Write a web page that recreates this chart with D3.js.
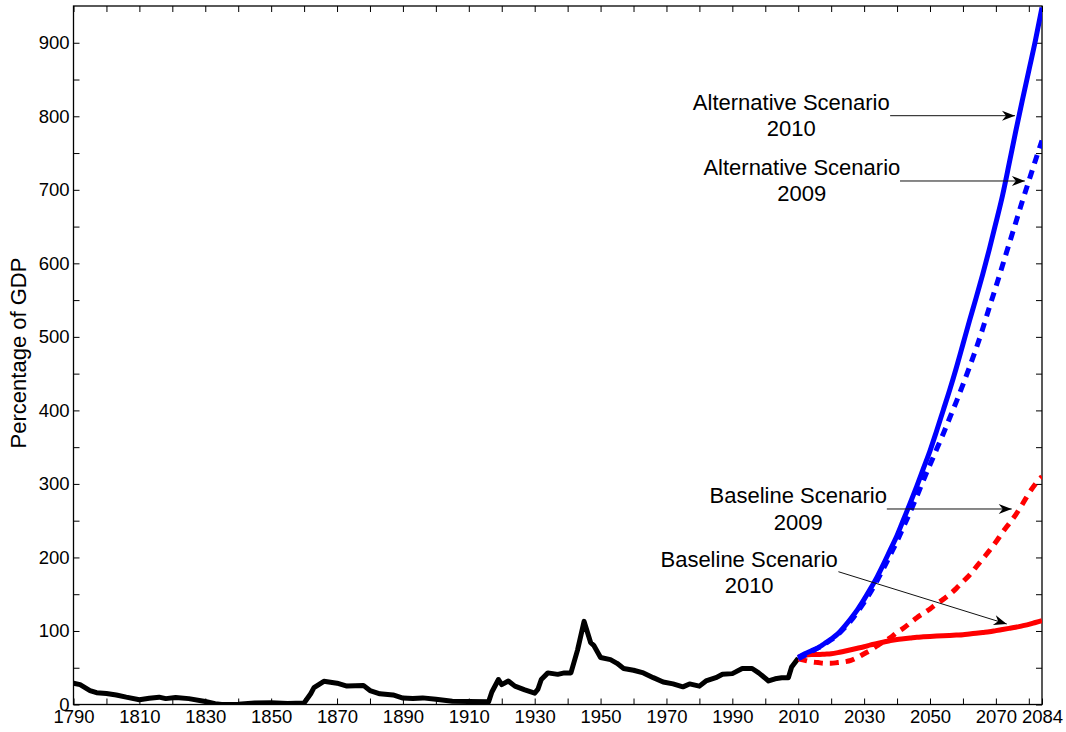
<!DOCTYPE html>
<html>
<head>
<meta charset="utf-8">
<script src="https://cdn.jsdelivr.net/npm/d3@7"></script>
<style>
  body { margin: 0; background: #fff; }
  text { font-family: "Liberation Sans", Arial, sans-serif; fill: #000; }
</style>
</head>
<body>
<svg id="chart" width="1066" height="732"></svg>
<script>
// historical debt held by the public, % of GDP
const histYears = [1790, 1792, 1795, 1797, 1800, 1803, 1806, 1810, 1813, 1816, 1818, 1821, 1825, 1830, 1833, 1835,
  1840, 1845, 1850, 1855, 1860, 1862, 1863, 1866, 1870, 1873, 1878, 1880, 1883, 1887, 1890, 1893, 1896, 1900,
  1905, 1910, 1916, 1917, 1919, 1920, 1922, 1924, 1927, 1930, 1931, 1932, 1934, 1937, 1939, 1941, 1943, 1945,
  1947, 1948, 1950, 1953, 1955, 1957, 1960, 1963, 1966, 1969, 1972, 1975, 1977, 1980, 1982, 1985, 1987, 1990,
  1993, 1996, 1998, 2001, 2003, 2005, 2007, 2008, 2010];
const histDebt = [29, 27, 19, 16, 15, 13, 10, 6.5, 8.5, 10, 8, 9.5, 8, 4, 1, 0,
  0.5, 2, 2.3, 1.4, 2, 14.6, 23, 31.5, 29, 25, 26, 19, 14.6, 13, 8.7, 8, 9, 7,
  4.5, 4, 3.6, 17, 34, 27, 32, 25, 20, 15.5, 21, 34, 43, 41, 43, 43, 74, 113,
  84, 80, 64, 61, 56, 49, 46.6, 43, 36.5, 30.6, 28, 24, 28, 25, 32, 36.5, 41, 42,
  49, 49, 43, 32, 35, 36.5, 36.5, 51, 63];

// projections
const projYears = [2010, 2012, 2014, 2016, 2018, 2020, 2022, 2024, 2026, 2028, 2030, 2032, 2034, 2036, 2038,
  2040, 2042, 2044, 2046, 2048, 2050, 2052, 2054, 2056, 2058, 2060, 2062, 2064, 2066, 2068, 2070, 2072, 2074,
  2076, 2078, 2080, 2082, 2084];
const alt2010 = [64, 69, 73, 77, 83, 89, 96, 106, 117, 129, 143, 158, 174, 192, 211,
  230, 252, 274, 297, 321, 345, 372, 400, 428, 458, 490, 522, 553, 585, 619, 655, 692, 735,
  779, 821, 862, 903, 948];
const alt2009 = [62, 67, 72, 77, 82, 88, 95, 104, 114, 126, 139, 153, 169, 186, 204,
  222, 242, 262, 283, 305, 326, 347, 368, 390, 412, 435, 459, 484, 511, 540, 568, 597, 626,
  655, 684, 712, 740, 767];
const base2010 = [64, 67, 68, 68, 68.5, 69, 70.5, 72.5, 74.5, 76.5, 78.5, 81, 83, 85, 87,
  88.5, 89.5, 90.5, 91.5, 92, 92.5, 93, 93.5, 94, 94.5, 95, 96, 97, 98, 99, 100.5, 102, 103.5,
  105, 107, 109, 111.5, 114];
const base2009 = [62, 60, 58, 57, 56, 56, 57, 58, 60, 64, 69, 74, 80, 86, 91,
  98, 104, 111, 118, 124, 130, 137, 143, 150, 158, 167, 176, 187, 198, 209, 221, 234, 246,
  258, 272, 287, 300, 310];

// axis ticks
const xTickYears = [1790, 1800, 1810, 1820, 1830, 1840, 1850, 1860, 1870, 1880, 1890, 1900, 1910, 1920, 1930,
  1940, 1950, 1960, 1970, 1980, 1990, 2000, 2010, 2020, 2030, 2040, 2050, 2060, 2070, 2080, 2084];
const xLabelYears = [1790, 1810, 1830, 1850, 1870, 1890, 1910, 1930, 1950, 1970, 1990, 2010, 2030, 2050, 2070, 2084];
const yTickValues = [0, 50, 100, 150, 200, 250, 300, 350, 400, 450, 500, 550, 600, 650, 700, 750, 800, 850, 900];
const yLabelValues = [0, 100, 200, 300, 400, 500, 600, 700, 800, 900];

// annotations: label lines, text anchor and arrow (year, % of GDP)
const noteLabels = [["Alternative Scenario", "2010"], ["Alternative Scenario", "2009"],
  ["Baseline Scenario", "2009"], ["Baseline Scenario", "2010"]];
const noteText = [[2007.9, 808.6], [2011.1, 720.2], [2010.0, 273.6], [1995.1, 187.4]];
const noteFrom = [[2037.9, 800.8], [2040.9, 712], [2036.9, 265.9], [2022.2, 180.6]];
const noteTo = [[2075.8, 800.8], [2078.8, 712], [2074.8, 265.9], [2073.3, 109.5]];

let margin = { top: 6, right: 24, bottom: 27.5, left: 73.5 },
  width = 1066 - margin.left - margin.right,
  height = 732 - margin.top - margin.bottom;

let svg = d3.select("#chart");
let g = svg.append("g")
  .attr("transform", "translate(" + margin.left + "," + margin.top + ")");

let x = d3.scaleLinear().domain([1790, 2084]).range([0, width]);
let y = d3.scaleLinear().domain([0, 950]).range([height, 0]);

g.append("clipPath").attr("id", "plotclip")
  .append("rect").attr("width", width).attr("height", height);

// axes, ticks point inward on all four sides
const tickLen = 6;
let xAxis = d3.axisBottom(x).tickValues(xTickYears).tickSizeInner(-tickLen).tickSizeOuter(0).tickPadding(5)
  .tickFormat(d => xLabelYears.includes(d) ? d : "");
let xAxisTop = d3.axisTop(x).tickValues(xTickYears).tickSizeInner(-tickLen).tickSizeOuter(0).tickFormat("");
let yAxis = d3.axisLeft(y).tickValues(yTickValues).tickSizeInner(-tickLen).tickSizeOuter(0).tickPadding(4)
  .tickFormat(d => yLabelValues.includes(d) ? d : "");
let yAxisRight = d3.axisRight(y).tickValues(yTickValues).tickSizeInner(-tickLen).tickSizeOuter(0).tickFormat("");

g.append("g").attr("class", "axis").attr("transform", "translate(0," + height + ")").call(xAxis);
g.append("g").attr("class", "axis").call(xAxisTop);
g.append("g").attr("class", "axis").call(yAxis);
g.append("g").attr("class", "axis").attr("transform", "translate(" + width + ",0)").call(yAxisRight);

g.selectAll(".axis .domain").remove();
g.selectAll(".axis line").attr("stroke", "#000").attr("stroke-width", 1);
g.selectAll(".axis text").style("font-size", "18.5px").attr("fill", "#000");

// box
g.append("rect")
  .attr("width", width).attr("height", height)
  .attr("fill", "none").attr("stroke", "#000").attr("stroke-width", 1.3);

// y label
svg.append("text")
  .attr("transform", "translate(26," + 353 + ") rotate(-90)")
  .style("text-anchor", "middle")
  .style("font-size", "22px")
  .text("Percentage of GDP");

// lines
let lineLinear = d3.line().x(d => x(d[0])).y(d => y(d[1]));
let lineSmooth = d3.line().curve(d3.curveMonotoneX).x(d => x(d[0])).y(d => y(d[1]));
let plot = g.append("g").attr("clip-path", "url(#plotclip)");

function addSeries(years, values, gen, color, dash) {
  plot.append("path")
    .datum(years.map((yr, i) => [yr, values[i]]))
    .attr("d", gen)
    .attr("fill", "none")
    .attr("stroke", color)
    .attr("stroke-width", 5)
    .attr("stroke-linejoin", "round")
    .attr("stroke-dasharray", dash);
}

addSeries(histYears, histDebt, lineLinear, "#000", null);
addSeries(projYears, base2009, lineSmooth, "#ff0000", "9,7");
addSeries(projYears, base2010, lineSmooth, "#ff0000", null);
addSeries(projYears, alt2009, lineSmooth, "#0000ff", "9,7");
addSeries(projYears, alt2010, lineSmooth, "#0000ff", null);

// annotations with arrows
svg.append("defs").append("marker")
  .attr("id", "arrowhead")
  .attr("markerUnits", "userSpaceOnUse")
  .attr("viewBox", "-14 -6 16 12")
  .attr("refX", 0).attr("refY", 0)
  .attr("markerWidth", 16).attr("markerHeight", 12)
  .attr("orient", "auto")
  .append("path")
  .attr("d", "M0,0 L-13,-5 L-9,0 L-13,5 Z")
  .attr("fill", "#000");

noteLabels.forEach((lines, i) => {
  g.append("line")
    .attr("x1", x(noteFrom[i][0])).attr("y1", y(noteFrom[i][1]))
    .attr("x2", x(noteTo[i][0])).attr("y2", y(noteTo[i][1]))
    .attr("stroke", "#111").attr("stroke-width", 1)
    .attr("marker-end", "url(#arrowhead)");

  let t = g.append("text")
    .attr("x", x(noteText[i][0])).attr("y", y(noteText[i][1]))
    .style("text-anchor", "middle")
    .style("font-size", "22px");
  lines.forEach((s, j) => {
    t.append("tspan")
      .attr("x", x(noteText[i][0]))
      .attr("dy", j === 0 ? 0 : 26.5)
      .text(s);
  });
});
</script>
</body>
</html>
